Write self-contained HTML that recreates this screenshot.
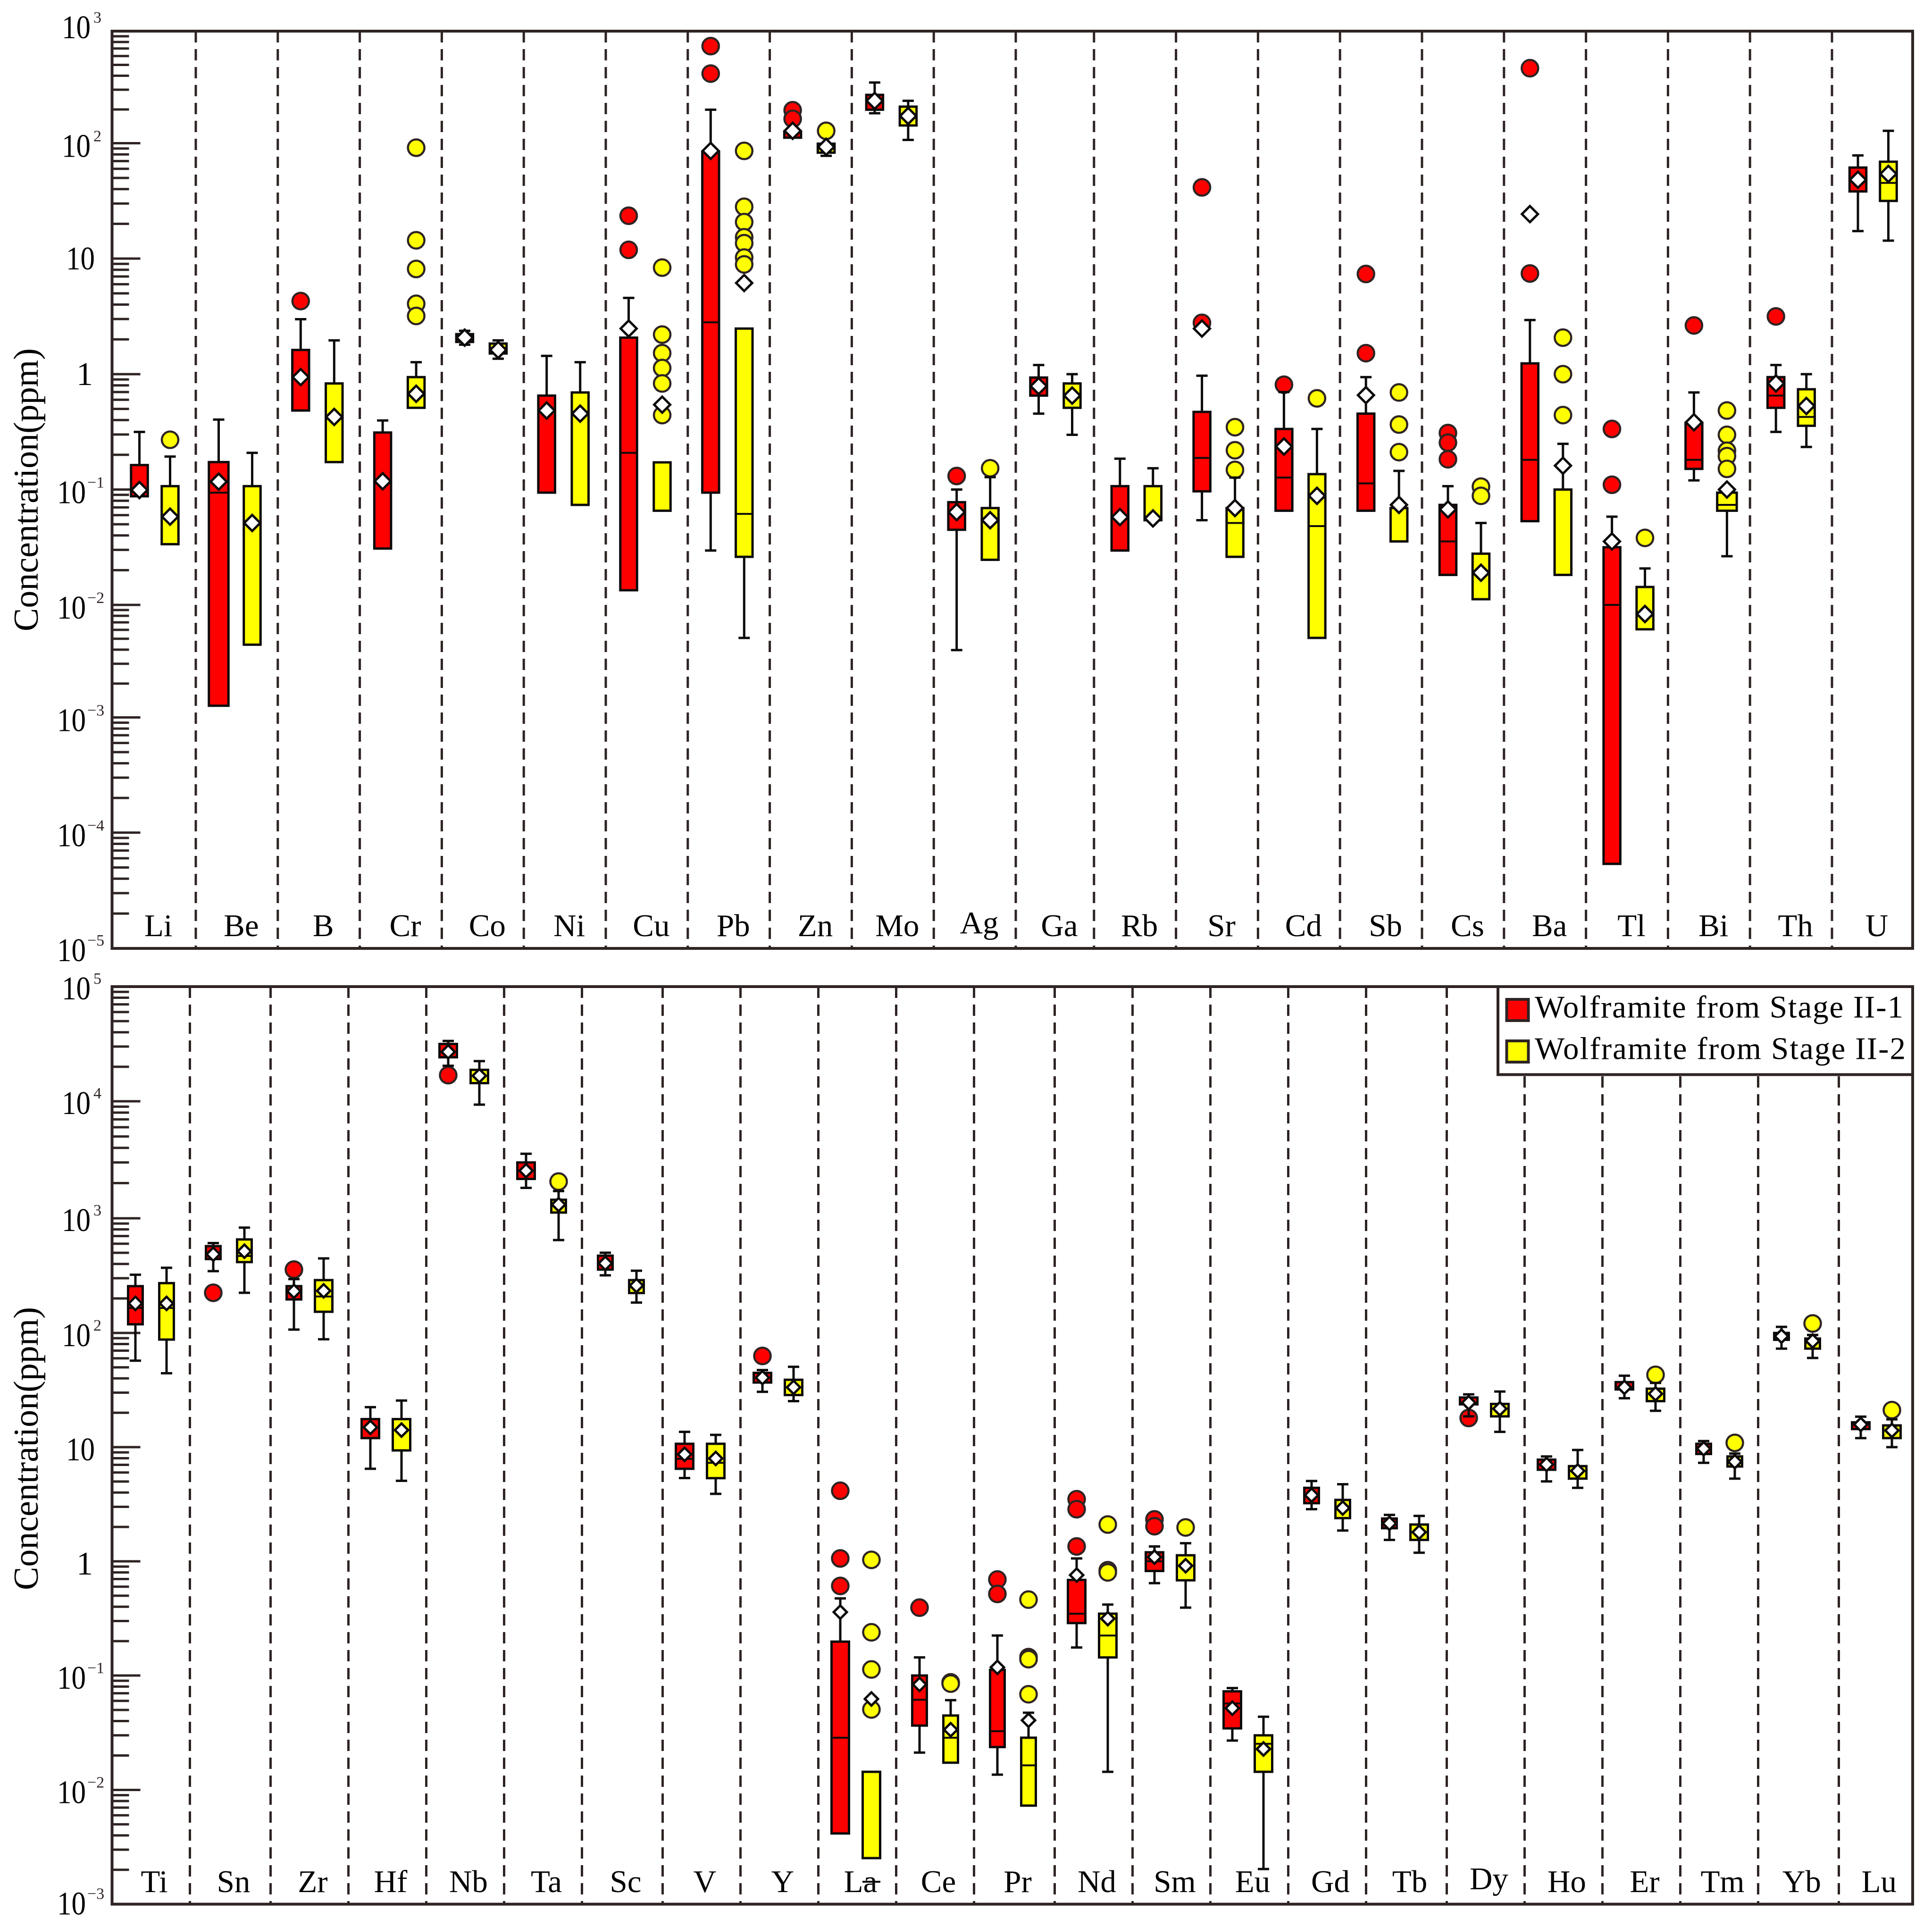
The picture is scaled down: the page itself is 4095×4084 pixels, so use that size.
<!DOCTYPE html>
<html lang="en">
<head>
<meta charset="utf-8">
<title>Wolframite trace element concentrations</title>
<style>
html,body{margin:0;padding:0;background:#fff;}
svg{display:block;font-family:"Liberation Serif",serif;}
</style>
</head>
<body>
<svg id="chart" xmlns="http://www.w3.org/2000/svg" width="4095" height="4084" viewBox="0 0 4095 4084">
  <rect x="0" y="0" width="4095" height="4084" fill="#fff"/>
  <g id="layer-grid"></g>
  <g id="layer-ticks"></g>
  <g id="layer-marks"></g>
  <g id="layer-labels"></g>
  <rect x="237.5" y="66" width="3816.5" height="1944" fill="none" stroke="#2e2423" stroke-width="6"/>
  <rect x="237.5" y="2091" width="3816.5" height="1944.6" fill="none" stroke="#2e2423" stroke-width="6"/>
  <text x="80" y="1038" transform="rotate(-90 80 1038)" text-anchor="middle" font-size="74" textLength="600" fill="#000">Concentration(ppm)</text>
  <text x="80" y="3070" transform="rotate(-90 80 3070)" text-anchor="middle" font-size="74" textLength="600" fill="#000">Concentration(ppm)</text>
  <g>
    <rect x="3175" y="2091" width="879" height="186.5" fill="#fff" stroke="#2e2423" stroke-width="6"/>
    <rect x="3193.5" y="2118" width="46" height="45" fill="#ff0000" stroke="#2e2423" stroke-width="6"/>
    <text x="3253" y="2156.5" font-size="67" textLength="781" fill="#000">Wolframite from Stage II-1</text>
    <rect x="3193.5" y="2206" width="46" height="45" fill="#ffff00" stroke="#2e2423" stroke-width="6"/>
    <text x="3253" y="2244.5" font-size="67" textLength="786" fill="#000">Wolframite from Stage II-2</text>
  </g>
</svg>
<script>
// ---------- Top panel data (ppm) ----------
const topCategories = ['Li','Be','B','Cr','Co','Ni','Cu','Pb','Zn','Mo','Ag','Ga','Rb','Sr','Cd','Sb','Cs','Ba','Tl','Bi','Th','U'];
const topTickExponents = [3,2,1,0,-1,-2,-3,-4,-5];

const topRedHigh = [.316,.404,2.99,.397,2.37,1.44,4.57,199,null,348,.1,1.2,.185,.97,.70,.943,.107,2.94,.0582,.694,1.2,78.4];
const topRedQ3 = [.163,.173,1.62,.312,2.22,.652,2.07,83.5,127,270,.0777,.935,.107,.471,.335,.455,.0736,1.24,.0316,.378,.943,61.5];
const topRedMedian = [null,.094,null,null,null,null,.208,2.81,null,null,null,null,null,.188,.127,.113,.0355,.181,.01,.181,.652,null];
const topRedQ1 = [.0874,.00127,.484,.0308,1.9,.094,.0134,.094,112,199,.0448,.652,.0296,.0965,.0655,.0655,.0182,.0532,.0000537,.151,.511,38.2];
const topRedLow = [null,null,null,null,1.8,null,null,.0296,null,185,.00397,.455,null,.0542,null,null,null,null,null,.12,.316,17.3];
const topRedMean = [.099,.117,.943,.118,2.07,.484,2.48,85.8,129,239,.0637,.788,.0577,2.48,.236,.658,.0673,24.3,.0355,.383,.831,48.2];
const topRedOutliers = [[],[],[4.29],[],[],[],[23.5,11.9],[735,418],[197,165],[],[.131],[],[],[41.4,2.78],[.81],[7.36,1.52],[.309,.255,.183],[467,7.43],[.335,.11],[2.64],[3.16],[]];

const topYellowHigh = [.193,.208,1.96,1.27,1.96,1.27,null,null,null,239,.128,1.0,.153,.127,.335,.145,.0513,.249,.0207,null,1.0,129];
const topYellowQ3 = [.107,.107,.831,.943,1.84,.694,.172,2.48,99,212,.0691,.831,.107,.0691,.136,.0691,.0278,.1,.0143,.094,.74,69.1];
const topYellowMedian = [null,null,null,null,null,null,null,.0615,null,null,null,null,null,.0513,.0482,null,null,null,null,.0736,.426,45.3];
const topYellowQ1 = [.0336,.00443,.173,.511,1.51,.0736,.0655,.0261,82.8,144,.0246,.511,.0542,.0261,.00509,.0355,.0112,.0182,.00607,.0655,.357,31.6];
const topYellowLow = [null,null,null,null,1.36,null,null,.00509,77.7,107,null,.298,null,null,null,null,null,null,null,.0264,.234,14.3];
const topYellowMean = [.0582,.0513,.426,.676,1.62,.455,.544,6.15,93,175,.0542,.652,.0562,.0691,.0882,.0736,.019,.161,.0083,.1,.53,54.2];
const topYellowOutliers = [[.27],[],[],[91.4,14.4,8.13,4.06,3.19],[],[],[8.35,2.2,1.52,1.13,.831,.442],[85.8,28.1,20.7,15.3,13.6,10.2,8.9],[129],[],[.153],[],[],[.347,.219,.148],[.617],[.694,.366,.211],[.106,.0882],[2.07,1.0,.442],[.0381],[.484,.298,.217,.195,.151],[],[]];

// ---------- Bottom panel data (ppm) ----------
const bottomCategories = ['Ti','Sn','Zr','Hf','Nb','Ta','Sc','V','Y','La','Ce','Pr','Nd','Sm','Eu','Gd','Tb','Dy','Ho','Er','Tm','Yb','Lu'];
const bottomTickExponents = [5,4,3,2,1,0,-1,-2,-3];

const bottomRedHigh = [322,608,295,22.4,33600,3560,501,13.6,47.3,.473,.144,.224,1.06,1.35,.0777,5.05,2.55,29,8.29,42.2,11.3,113,18.5];
const bottomRedQ3 = [256,572,256,17.6,31600,3000,472,10.7,44.7,.198,.1,.112,.687,1.2,.0727,4.4,2.37,27.2,7.77,37.1,10.7,100,16.5];
const bottomRedMedian = [165,null,null,null,null,null,null,7.89,null,.0286,.0614,.0326,.348,1.0,.057,null,null,null,null,null,null,null,null];
const bottomRedQ1 = [119,441,196,12,24200,2170,357,6.46,36.8,.00416,.0365,.0237,.288,.823,.0345,3.23,1.95,23.7,6.34,32,8.71,87.1,14.4];
const bottomRedLow = [57.2,346,107,6.46,20400,1820,318,5.36,30.5,null,.0212,.0136,.176,.644,.027,2.86,1.54,18.6,5.01,26.8,7.29,72.9,12];
const bottomRedMean = [181,486,231,14.9,27000,2550,405,8.65,40.6,.359,.0836,.118,.758,1.09,.0518,3.8,2.15,24.5,7.05,33.4,9.68,93.7,15.8];
const bottomRedOutliers = [[],[224],[357],[],[16900],[],[],[],[62.9],[4.15,1.06,.609],[.393],[.693,.518],[3.5,2.86,1.35],[2.33,2.03],[],[],[],[18],[],[],[],[],[]];

const bottomYellowHigh = [370,829,447,25.6,22400,1710,349,12.8,50.5,null,.0609,.0473,.418,1.44,.0436,4.73,2.5,30.7,9.45,36.5,8.78,96,17.5];
const bottomYellowQ3 = [272,654,289,17.6,18800,1440,289,10.7,38.9,.0144,.0447,.0286,.348,1.13,.03,3.45,2.1,23.9,6.82,32.5,8.29,89.3,15.5];
const bottomYellowMedian = [165,469,208,null,null,null,null,7.29,null,null,.0286,.0164,.224,null,.0253,null,null,null,null,null,null,null,null];
const bottomYellowQ1 = [87.5,415,153,9.36,14400,1120,223,5.35,28.6,.00253,.0173,.00729,.144,.682,.0144,2.39,1.54,18.6,5.3,25.3,6.77,72.9,12];
const bottomYellowLow = [44.4,224,88,5.07,9360,646,184,3.9,25.3,null,null,null,.0144,.393,.00203,1.86,1.19,13.6,4.4,20.8,5.3,60.4,10];
const bottomYellowMean = [181,516,233,14.1,16700,1310,259,7.96,33.4,.0624,.0336,.0406,.315,.915,.0228,2.93,1.8,21.7,6.19,29.3,7.46,85,14];
const bottomYellowOutliers = [[],[],[],[],[],[2060],[],[],[],[1.03,.239,.113,.0505],[.0871,.085],[.462,.145,.139,.0686],[2.1,.836,.8],[1.98],[],[],[],[],[],[43],[10.9],[121],[21.1]];
const laYellowStrayCap = [.00157];

// ---------- Helpers ----------
const NS = 'http://www.w3.org/2000/svg';
const INK = '#2e2423';
const MARK = '#0d0a0a';
const gridLayer = document.getElementById('layer-grid');
const tickLayer = document.getElementById('layer-ticks');
const markLayer = document.getElementById('layer-marks');
const labelLayer = document.getElementById('layer-labels');

function make(parent, tag, attrs, text) {
  const el = document.createElementNS(NS, tag);
  Object.keys(attrs).forEach(function (k) { el.setAttribute(k, attrs[k]); });
  if (text !== undefined) el.textContent = text;
  parent.appendChild(el);
  return el;
}

// Piecewise log axis through calibrated decade rows (the original axes are hand-drawn).
function logAxis(topExp, rows) {
  return function (v) {
    const pos = topExp - Math.log10(v);
    const k = Math.max(0, Math.min(rows.length - 2, Math.floor(pos)));
    return rows[k] + (pos - k) * (rows[k + 1] - rows[k]);
  };
}

const yTop = logAxis(3, [66, 303.5, 548, 793, 1037.5, 1282, 1520.5, 1764.6, 2010]);
const yBottom = logAxis(5, [2091, 2334, 2582, 2825, 3067, 3309, 3551, 3793.5, 4035.6]);

function topSep(i) { return 415 + 173.8 * i - (i >= 11 ? 8 : 0); }
function bottomSep(i) { return 402.5 + 165 * i + 6 * Math.floor((i + 4) / 5); }
function topLeft(c) { return c === 0 ? 241 : topSep(c - 1); }
function bottomLeft(c) { return c === 0 ? 237.5 : bottomSep(c - 1); }

const topWide = { 'Be-0': 1, 'Bi-1': 1 };
const bottomNarrow = { 'Ti-0':1,'Sn-0':1,'Zr-0':1,'Sc-0':1,'Ce-0':1,'Pr-0':1,'Gd-0':1,'Tb-0':1,'Tm-0':1,'Yb-0':1,
                       'Ti-1':1,'Sn-1':1,'Ta-1':1,'Sc-1':1,'Ce-1':1,'Pr-1':1,'Gd-1':1,'Tm-1':1,'Yb-1':1 };

function topCenter(c, s) {
  const l = topLeft(c);
  if (s === 0) return l + (c === 0 ? 54.5 : c < 12 ? 48.5 : 55);
  return l + (c < 12 || c >= 20 ? 119.5 : 125);
}
function bottomCenter(c, s) {
  const key = bottomCategories[c] + '-' + s;
  return bottomLeft(c) + (s === 0 ? 46.5 : 112.5) + (bottomNarrow[key] ? 3 : 0);
}
function topBoxW(c, s) { return topWide[topCategories[c] + '-' + s] ? 41.5 : 35.5; }
function bottomBoxW(c, s) { return bottomNarrow[bottomCategories[c] + '-' + s] ? 31 : 37; }

// ---------- Axis drawing ----------
function drawSeparators(name, sepFn, count, y0, y1) {
  for (let i = 0; i < count; i++) {
    const x = sepFn(i);
    const ln = make(gridLayer, 'line', { x1: x, x2: x, y1: y0, y2: y1, stroke: INK, 'stroke-width': 5, 'stroke-dasharray': '24 14' });
    
    
  }
}

function drawTicks(name, exps, yFn) {
  const low = Math.min.apply(null, exps);
  const high = Math.max.apply(null, exps);
  for (let e = low; e < high; e++) {
    for (let m = 1; m <= 9; m++) {
      if (m === 1 && e === low) continue;
      const y = yFn(m * Math.pow(10, e));
      const len = m === 1 ? 60 : 36;
      const t = make(tickLayer, 'line', { x1: 237.5, x2: 237.5 + len, y1: y, y2: y, stroke: INK, 'stroke-width': 5 });
      
      
    }
  }
}

function baseOffset(panel, e) {
  if (panel === 'top') {
    if (e === 3) return 15;
    if (e === 2) return 29;
    if (e >= 0) return 23;
    return e === -5 ? 27 : 29;
  }
  if (e >= 3) return 27;
  if (e >= 0) return 28;
  return e === -3 ? 22 : 28;
}

function drawTickLabels(panel, exps, yFn) {
  exps.forEach(function (e) {
    const y = yFn(Math.pow(10, e)) + baseOffset(panel, e);
    const x = e >= 2 ? 131 : e === 1 ? 140 : e === 0 ? 162 : 121;
    const attrs = { x: x, y: y, 'font-size': 70, fill: '#000' };
    if (e !== 0) { attrs.textLength = 61; attrs.lengthAdjust = 'spacingAndGlyphs'; }
    const t = make(labelLayer, 'text', attrs, e === 0 ? '1' : '10');
    
    
    if (e >= 2 || e < 0) {
      const sup = make(labelLayer, 'text', { x: e >= 2 ? 198 : 185, y: y - 33, 'font-size': 34, fill: INK },
        e < 0 ? '\u2212' + (-e) : String(e));
      
      
    }
  });
}

function drawCategoryLabels(panel, cats, centerFn, baseline, raised) {
  cats.forEach(function (cat, c) {
    const t = make(labelLayer, 'text', { x: centerFn(c), y: baseline - (raised[cat] || 0), 'font-size': 67, 'text-anchor': 'middle', fill: '#000' }, cat);
    
    
  });
}

// ---------- Marks ----------
function drawSeries(panel, cats, series, s, color, yFn, centerFn, widthFn, diamondR) {
  const capHalf = 12;
  cats.forEach(function (cat, c) {
    const x = centerFn(c, s);
    const w = widthFn(c, s);
    const g = make(markLayer, 'g', {});
    
    

    const q3 = yFn(series.q3[c]);
    const q1 = yFn(series.q1[c]);

    series.outliers[c].forEach(function (v) {
      const o = make(g, 'circle', { cx: x, cy: yFn(v), r: 17.5, fill: color, stroke: INK, 'stroke-width': 4.5 });
      
      
    });

    [[series.high[c], q3], [series.low[c], q1]].forEach(function (pair) {
      if (pair[0] === null) return;
      const yw = yFn(pair[0]);
      const stem = make(g, 'line', { x1: x, x2: x, y1: yw, y2: pair[1], stroke: MARK, 'stroke-width': 5 });
      
      
      const cap = make(g, 'line', { x1: x - capHalf, x2: x + capHalf, y1: yw, y2: yw, stroke: MARK, 'stroke-width': 5 });
      
      
    });

    const box = make(g, 'rect', { x: x - w / 2, y: q3, width: w, height: q1 - q3, fill: color, stroke: MARK, 'stroke-width': 5 });
    
    

    if (series.median[c] !== null) {
      const ym = yFn(series.median[c]);
      const med = make(g, 'line', { x1: x - w / 2, x2: x + w / 2, y1: ym, y2: ym, stroke: MARK, 'stroke-width': 4 });
      
      
    }

    const my = yFn(series.mean[c]);
    const d = make(g, 'polygon', {
      points: [x, my - diamondR, x + diamondR, my, x, my + diamondR, x - diamondR, my].join(' '),
      fill: '#fff', stroke: MARK, 'stroke-width': 5
    });
    
    
  });
}

// ---------- Build ----------
drawSeparators('top', topSep, 21, 66, 2010);
drawSeparators('bottom', bottomSep, 22, 2091, 4035.6);
drawTicks('top', topTickExponents, yTop);
drawTicks('bottom', bottomTickExponents, yBottom);
drawTickLabels('top', topTickExponents, yTop);
drawTickLabels('bottom', bottomTickExponents, yBottom);

drawCategoryLabels('top', topCategories, function (c) {
  const l = c === 0 ? 237.5 : topSep(c - 1);
  const r = c === 21 ? 4054 : topSep(c);
  return (l + r) / 2 + 9.5;
}, 1984, { Ag: 6 });

drawCategoryLabels('bottom', bottomCategories, function (c) {
  const l = bottomLeft(c);
  const r = c === 22 ? 4054 : bottomSep(c);
  return (l + r) / 2 + 7;
}, 4010, { Dy: 6 });

drawSeries('top', topCategories, { high: topRedHigh, q3: topRedQ3, median: topRedMedian, q1: topRedQ1, low: topRedLow, mean: topRedMean, outliers: topRedOutliers }, 0, '#ff0000', yTop, topCenter, topBoxW, 17);
drawSeries('top', topCategories, { high: topYellowHigh, q3: topYellowQ3, median: topYellowMedian, q1: topYellowQ1, low: topYellowLow, mean: topYellowMean, outliers: topYellowOutliers }, 1, '#ffff00', yTop, topCenter, topBoxW, 17);
drawSeries('bottom', bottomCategories, { high: bottomRedHigh, q3: bottomRedQ3, median: bottomRedMedian, q1: bottomRedQ1, low: bottomRedLow, mean: bottomRedMean, outliers: bottomRedOutliers }, 0, '#ff0000', yBottom, bottomCenter, bottomBoxW, 14);
drawSeries('bottom', bottomCategories, { high: bottomYellowHigh, q3: bottomYellowQ3, median: bottomYellowMedian, q1: bottomYellowQ1, low: bottomYellowLow, mean: bottomYellowMean, outliers: bottomYellowOutliers }, 1, '#ffff00', yBottom, bottomCenter, bottomBoxW, 14);

const strayY = yBottom(laYellowStrayCap[0]);
const strayX = bottomCenter(bottomCategories.indexOf('La'), 1);
const stray = make(labelLayer, 'line', { x1: strayX - 19, x2: strayX + 19, y1: strayY, y2: strayY, stroke: MARK, 'stroke-width': 4 });


</script>
</body>
</html>
